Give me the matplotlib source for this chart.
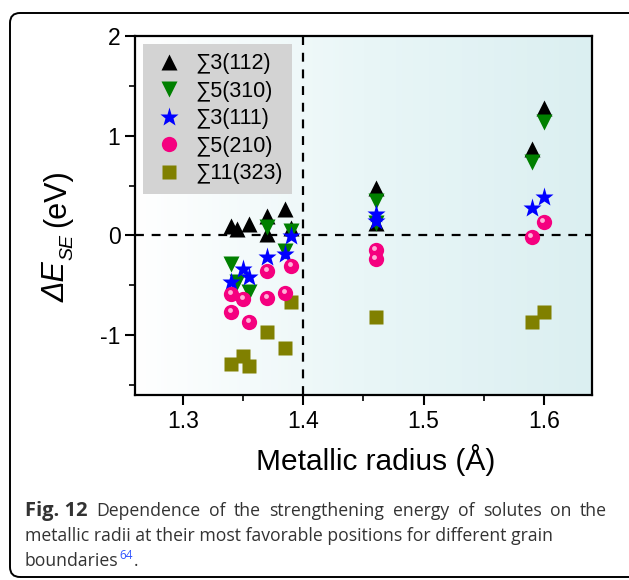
import numpy as np
import matplotlib
matplotlib.use("Agg")
import matplotlib.pyplot as plt
from matplotlib.patches import FancyBboxPatch
from matplotlib.transforms import IdentityTransform
from matplotlib.colors import LinearSegmentedColormap

plt.rcParams['font.family'] = ['Liberation Sans', 'DejaVu Sans']
plt.rcParams['axes.unicode_minus'] = False

# data (metallic radius in Angstrom, energy in eV)
x_s3_112 = [1.34, 1.345, 1.355, 1.37, 1.37, 1.385, 1.39, 1.46, 1.46, 1.59, 1.60]
y_s3_112 = [0.09, 0.06, 0.11, 0.19, 0.01, 0.27, 0.07, 0.48, 0.12, 0.87, 1.28]

x_s5_310 = [1.34, 1.345, 1.355, 1.37, 1.385, 1.39, 1.46, 1.46, 1.59, 1.60]
y_s5_310 = [-0.29, -0.47, -0.57, 0.08, -0.16, 0.04, 0.35, 0.12, 0.74, 1.14]

x_s3_111 = [1.34, 1.35, 1.355, 1.37, 1.385, 1.39, 1.46, 1.46, 1.59, 1.60]
y_s3_111 = [-0.47, -0.34, -0.42, -0.22, -0.19, -0.01, 0.22, 0.14, 0.28, 0.39]

x_s5_210 = [1.34, 1.35, 1.37, 1.385, 1.34, 1.355, 1.37, 1.39, 1.46, 1.46, 1.59, 1.60]
y_s5_210 = [-0.59, -0.64, -0.63, -0.58, -0.77, -0.87, -0.36, -0.31, -0.15, -0.24, -0.02, 0.13]

x_s11_323 = [1.39, 1.37, 1.385, 1.34, 1.35, 1.355, 1.46, 1.59, 1.60]
y_s11_323 = [-0.67, -0.97, -1.13, -1.29, -1.21, -1.31, -0.82, -0.87, -0.77]

labels = ['\u22113(112)', '\u22115(310)', '\u22113(111)', '\u22115(210)', '\u221111(323)']

fig = plt.figure(figsize=(6.29, 5.80), dpi=100)
ax = fig.add_axes([0.2146, 0.319, 0.7266, 0.6189])

# gradient background
grad = np.linspace(0, 1, 256).reshape(1, -1)
bg = LinearSegmentedColormap.from_list('bg', ['#ffffff', '#e9f6f7', '#dbeff1'])
ax.imshow(grad, extent=[1.26, 1.64, -1.6, 2.0], aspect='auto', cmap=bg, zorder=0)

ax.axhline(0, color='black', ls=(0, (4, 3.5)), lw=1.6, zorder=1)
ax.axvline(1.4, color='black', ls=(0, (4, 3.5)), lw=1.6, zorder=1)

ax.plot(x_s3_112, y_s3_112, '^', color='black', ms=12, mec='none', label=labels[0], zorder=3)
ax.plot(x_s5_310, y_s5_310, 'v', color='#008000', ms=12, mec='none', label=labels[1], zorder=3)
ax.plot(x_s3_111, y_s3_111, '*', color='#0000ff', ms=14, mec='none', label=labels[2], zorder=4)
ax.plot(x_s5_210, y_s5_210, 'o', color='#f5007f', ms=11, mec='none', label=labels[3], zorder=4)
# small highlight to mimic the shaded spheres
ax.plot(np.array(x_s5_210) - 0.0012, np.array(y_s5_210) + 0.025, 'o', color='#ffb0d8',
        ms=3.5, mec='none', zorder=4.5)
ax.plot(x_s11_323, y_s11_323, 's', color='#808000', ms=10, mec='none', label=labels[4], zorder=3)

ax.set_xlim(1.26, 1.64)
ax.set_ylim(-1.6, 2.0)
ax.set_xticks([1.3, 1.4, 1.5, 1.6])
ax.set_yticks([-1, 0, 1, 2])
ax.set_xticks([1.35, 1.45, 1.55], minor=True)
ax.set_yticks([-1.5, -0.5, 0.5, 1.5], minor=True)
ax.tick_params(which='major', direction='out', length=7, width=1.5, labelsize=16.5,
               top=False, right=False)
ax.tick_params(which='minor', direction='out', length=4, width=1.2, top=False, right=False)
for s in ax.spines.values():
    s.set_linewidth(1.6)

ax.set_xlabel('Metallic radius (\u00c5)', fontsize=21.5, labelpad=8)
ax.xaxis.label.set_x(0.5 + 12 / 457)

# y label built from pieces so the Delta can be italic
yl1 = fig.text(57 / 629, 1 - 302 / 580, '\u0394E', fontsize=22, fontstyle='italic',
               rotation=90, ha='center', va='bottom')
yl2 = ax.annotate('SE', xy=(1.0, 1.0), xycoords=yl1, xytext=(3, 1), textcoords='offset points',
                  fontsize=14, fontstyle='italic', rotation=90, ha='right', va='bottom',
                  annotation_clip=False)
ax.annotate('(eV)', xy=(0.5, 1.0), xycoords=(yl1, yl2), xytext=(0, 5),
            textcoords='offset points', fontsize=22, rotation=90, ha='center', va='bottom',
            annotation_clip=False)

leg = ax.legend(loc='upper left', fontsize=15.5, frameon=True, fancybox=False,
                facecolor='#d3d3d3', edgecolor='none', framealpha=1,
                borderaxespad=0.35, handletextpad=0.4, labelspacing=0.3,
                borderpad=0.45, handlelength=1.6)

# frame around the whole figure panel
frame = FancyBboxPatch((10, 3), 640, 564, boxstyle='round,pad=0,rounding_size=10',
                       transform=IdentityTransform(), fill=False, ec='black', lw=1.4)
fig.patches.append(frame)

# caption, first line justified between x=96 and x=608 px
cap_font = ['Open Sans', 'DejaVu Sans']
cap_kw = dict(fontsize=12.7, family=cap_font, color='#333333')
fig.text(25 / 629, 1 - 516 / 580, 'Fig. 12', fontweight='bold', fontsize=14.5,
         family=cap_font, color='#333333')
words = 'Dependence of the strengthening energy of solutes on the'.split()
renderer = fig.canvas.get_renderer()
wtexts = [fig.text(0, 1 - 516 / 580, w, **cap_kw) for w in words]
widths = [t.get_window_extent(renderer).width for t in wtexts]
x0, x1 = 96, 607
gap = (x1 - x0 - sum(widths)) / (len(words) - 1)
xpos = x0
for t, w in zip(wtexts, widths):
    t.set_x(xpos / 629)
    xpos += w + gap

fig.text(25 / 629, 1 - 541 / 580,
         'metallic radii at their most favorable positions for different grain', **cap_kw)
c3 = fig.text(25 / 629, 1 - 566 / 580, 'boundaries', **cap_kw)
c4 = ax.annotate('64', xy=(1, 0.45), xycoords=c3, xytext=(0.5, 0), textcoords='offset points',
                 va='bottom', fontsize=8.5, family=cap_font, color='#3355ff',
                 annotation_clip=False)
ax.annotate('.', xy=(1, 0), xycoords=(c4, c3), xytext=(0.5, 0), textcoords='offset points',
            va='bottom', annotation_clip=False, **cap_kw)

fig.savefig('out.png', dpi=100)
